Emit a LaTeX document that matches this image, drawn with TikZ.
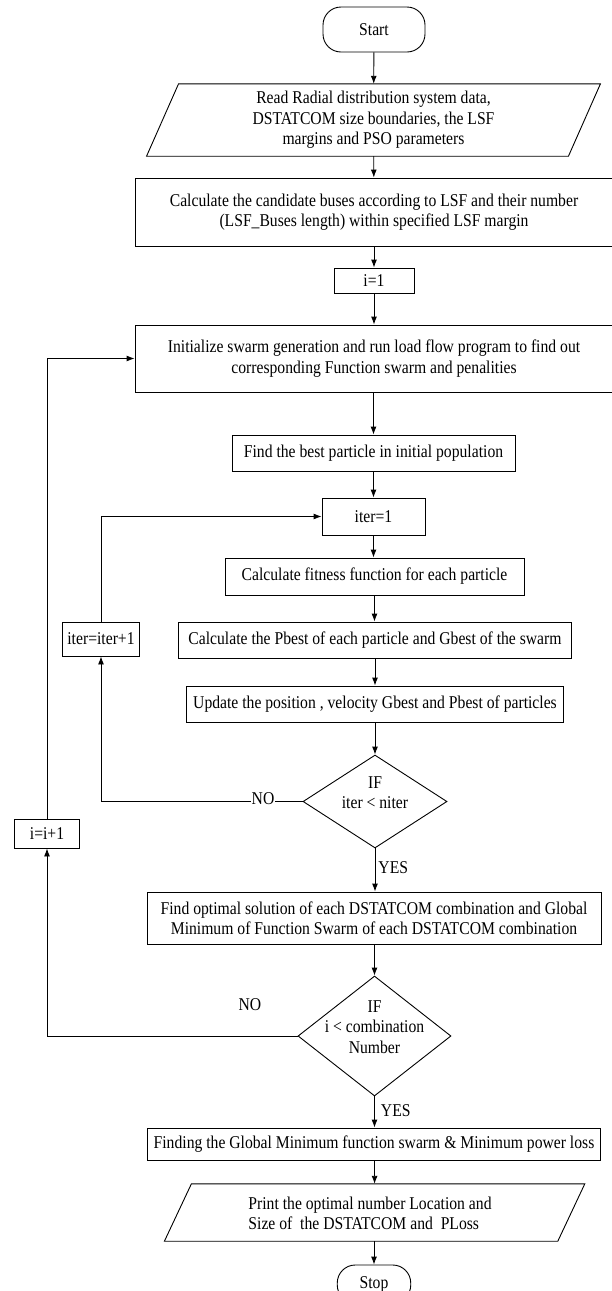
\documentclass[tikz,border=0pt]{standalone}
\usepackage{fontspec}
\setmainfont{Liberation Serif}[FakeStretch=0.87]
\usetikzlibrary{shapes.geometric,arrows.meta}
\begin{document}
\begin{tikzpicture}[x=1pt,y=-1pt,
  every node/.style={font=\fontsize{18}{20.5}\selectfont, inner sep=0pt},
  box/.style={draw, line width=0.9pt, rectangle, align=center},
  term/.style={draw, line width=0.9pt, rectangle, rounded corners=18pt, align=center},
  io/.style={rectangle, align=center},
  dec/.style={draw, line width=0.9pt, diamond, inner sep=0pt},
  arr/.style={-{Latex[length=8pt,width=6pt]}, line width=0.9pt},
  ln/.style={line width=0.9pt},
  lab/.style={fill=white, inner sep=0.5pt}
]
\useasboundingbox (0,0) rectangle (611,1291);

\node[term, minimum width=102pt, minimum height=45pt] (start) at (374,29.5) {Start};
\node[io, minimum width=421.5pt, minimum height=72pt] (para1) at (373.5,120)
  {Read Radial distribution system data,\\DSTATCOM size boundaries, the LSF\\margins and PSO parameters};
\draw[ln] ([xshift=-16pt]para1.south west) -- ([xshift=-16pt]para1.south east)
  -- ([xshift=16pt]para1.north east) -- ([xshift=16pt]para1.north west) -- cycle;
\node[box, minimum width=478pt, minimum height=68pt] (calc) at (374,212)
  {Calculate the candidate buses according to LSF and their number\\(LSF\_Buses length) within specified LSF margin};
\node[box, minimum width=80pt, minimum height=25pt] (i1) at (374,280.5) {i=1};
\node[box, minimum width=478pt, minimum height=67pt] (init) at (374,358.5)
  {Initialize swarm generation and run load flow program to find out\\corresponding Function swarm and penalities};
\node[box, minimum width=283pt, minimum height=36pt] (best) at (373.5,453)
  {Find the best particle in initial population};
\node[box, minimum width=103pt, minimum height=37pt] (iter1) at (373.5,516.5) {iter=1};
\node[box, minimum width=299pt, minimum height=37pt] (fit) at (374.5,576.5)
  {Calculate fitness function for each particle};
\node[box, minimum width=392.5pt, minimum height=36pt] (pbest) at (375,640)
  {Calculate the Pbest of each particle and Gbest of the swarm};
\node[box, minimum width=377.5pt, minimum height=36pt] (update) at (375,704)
  {Update the position , velocity Gbest and Pbest of particles};
\node[dec, minimum width=144pt, minimum height=93pt] (d1) at (375,801.5) {};
\node[align=center] (d1t) at (375,792.5) {IF\\iter < niter};
\node[box, minimum width=77.5pt, minimum height=34pt] (iterinc) at (101,639) {iter=iter+1};
\node[box, minimum width=65pt, minimum height=29pt] (iinc) at (47,833.5) {i=i+1};
\node[box, minimum width=454pt, minimum height=52pt] (opt) at (374,918)
  {Find optimal solution of each DSTATCOM combination and Global\\Minimum of Function Swarm of each DSTATCOM combination};
\node[dec, minimum width=153pt, minimum height=120pt] (d2) at (374.5,1036) {};
\node[align=center] (d2t) at (374.5,1026.7) {IF\\i < combination\\Number};
\node[box, minimum width=453.5pt, minimum height=32pt] (glob) at (374,1144)
  {Finding the Global Minimum function swarm \& Minimum power loss};
\node[io, minimum width=393pt, minimum height=57pt] (para2) at (374.6,1212.5) {};
\draw[ln] ([xshift=-13.5pt]para2.south west) -- ([xshift=-13.5pt]para2.south east)
  -- ([xshift=13.5pt]para2.north east) -- ([xshift=13.5pt]para2.north west) -- cycle;
\node[align=left] (para2t) at (370,1213.5)
  {Print the optimal number Location and\\Size of~ the DSTATCOM and~ PLoss};
\node[term, minimum width=73.5pt, minimum height=38pt] (stop) at (374,1284) {Stop};

% main flow
\draw[arr] (start) -- (para1);
\draw[arr] (para1) -- (calc);
\draw[arr] (calc) -- (i1);
\draw[arr] (i1) -- (init);
\draw[arr] (init.south -| best.north) -- (best.north);
\draw[arr] (best.south -| iter1.north) -- (iter1.north);
\draw[arr] (iter1.south) -- (fit.north -| iter1.south);
\draw[arr] (fit) -- (pbest.north -| fit.south);
\draw[arr] (pbest) -- (update);
\draw[arr] (update) -- (d1);
\draw[arr] (d1) -- node[pos=0.45, right=3pt, inner sep=0pt] (yes1) {YES} (opt.north -| d1.south);
\draw[arr] (opt.south -| d2.north) -- (d2.north);
\draw[arr] (d2) -- node[pos=0.45, right=6pt, inner sep=0pt] (yes2) {YES} (glob.north -| d2.south);
\draw[arr] (glob.south -| para2.north) -- (para2.north);
\draw[arr] (para2.south -| stop.north) -- (stop.north);

% iter loop
\draw[arr] (d1.west) -| (iterinc.south);
\node[lab] (no1) at (263,799) {NO};
\draw[arr] (iterinc.north) |- (iter1.west);

% i loop
\draw[arr] (d2.west) -| (iinc.south);
\node[inner sep=0pt] (no2) at (250,1005) {NO};
\draw[arr] (iinc.north) |- (init.west);
\end{tikzpicture}
\end{document}
